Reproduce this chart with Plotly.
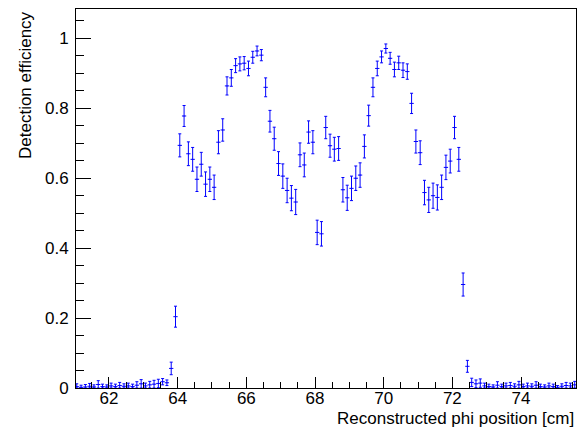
import plotly.graph_objects as go

# ---- data ----
bin_width = 0.125
first_center = 61.0625
n_bins = 117
x_centers = [round(first_center + i * bin_width, 4) for i in range(n_bins)]

low_left = [0.004, 0.002, 0.003, 0.005, 0.003, 0.010, 0.004, 0.003, 0.006, 0.004,
            0.007, 0.005, 0.006, 0.004, 0.008, 0.012, 0.006, 0.009, 0.011, 0.013]
main_vals = [0.018, 0.015, 0.056, 0.204, 0.694, 0.778, 0.670, 0.654, 0.597, 0.640,
             0.583, 0.597, 0.574, 0.703, 0.738, 0.864, 0.887, 0.922, 0.927, 0.929,
             0.914, 0.946, 0.964, 0.952, 0.860, 0.763, 0.713, 0.642, 0.606, 0.565,
             0.543, 0.532, 0.667, 0.638, 0.732, 0.703, 0.445, 0.441, 0.745, 0.693,
             0.683, 0.685, 0.567, 0.544, 0.571, 0.600, 0.609, 0.691, 0.779, 0.860,
             0.914, 0.947, 0.971, 0.943, 0.911, 0.930, 0.909, 0.905, 0.814, 0.705,
             0.673, 0.559, 0.538, 0.550, 0.545, 0.574, 0.631, 0.649, 0.745, 0.654,
             0.296, 0.062]
main_errs = [0.009, 0.008, 0.018, 0.030, 0.033, 0.030, 0.034, 0.034, 0.035, 0.034,
             0.035, 0.035, 0.035, 0.033, 0.032, 0.026, 0.024, 0.020, 0.020, 0.019,
             0.021, 0.017, 0.014, 0.016, 0.027, 0.031, 0.033, 0.034, 0.035, 0.035,
             0.036, 0.036, 0.034, 0.034, 0.032, 0.033, 0.035, 0.035, 0.032, 0.033,
             0.034, 0.034, 0.035, 0.036, 0.035, 0.035, 0.035, 0.033, 0.030, 0.027,
             0.021, 0.017, 0.013, 0.017, 0.021, 0.019, 0.021, 0.022, 0.029, 0.033,
             0.034, 0.035, 0.036, 0.036, 0.036, 0.035, 0.035, 0.034, 0.032, 0.034,
             0.033, 0.017]
low_right = [0.016, 0.012, 0.014, 0.006, 0.004, 0.003, 0.008, 0.004, 0.006, 0.007,
             0.005, 0.009, 0.004, 0.006, 0.005, 0.008, 0.004, 0.003, 0.006, 0.004,
             0.002, 0.005, 0.007, 0.006, 0.009]
low_err_plus = [0.008, 0.006, 0.007, 0.008, 0.006, 0.011, 0.007, 0.006, 0.008, 0.007,
                0.009, 0.007, 0.008, 0.007, 0.010, 0.012, 0.008, 0.010, 0.011, 0.012]
low_right_err_plus = [0.012, 0.011, 0.012, 0.008, 0.007, 0.006, 0.010, 0.007, 0.008, 0.009,
                      0.007, 0.010, 0.007, 0.008, 0.007, 0.010, 0.007, 0.006, 0.008, 0.007,
                      0.005, 0.007, 0.009, 0.008, 0.010]

y_vals = low_left + main_vals + low_right
err_plus = low_err_plus + main_errs + low_right_err_plus
err_minus = [min(v, e) for v, e in zip(y_vals, err_plus)]

x_range = [61.04, 75.6]
y_range = [0, 1.084]
x_title = "Reconstructed phi position [cm]"
y_title = "Detection efficiency"

color = "#0000ff"
font_family = "Liberation Sans, Arial, sans-serif"

fig = go.Figure()
fig.add_trace(go.Scatter(
    x=x_centers, y=y_vals, mode="markers",
    marker=dict(size=1, color=color),
    error_y=dict(type="data", symmetric=False, array=err_plus, arrayminus=err_minus,
                 color=color, thickness=1, width=1.5),
    error_x=dict(type="constant", value=bin_width / 2, color=color, thickness=1, width=0),
    cliponaxis=True, showlegend=False,
))

fig.update_xaxes(
    range=x_range, showgrid=False, zeroline=False,
    showline=True, linecolor="black", linewidth=1, mirror=True,
    ticks="inside", ticklen=11, tickcolor="black", tickwidth=1,
    tick0=62, dtick=2, tickfont=dict(family=font_family, size=17, color="black"),
    minor=dict(ticks="inside", ticklen=6, dtick=0.5, tick0=62, tickcolor="black", showgrid=False),
    ticklabelstandoff=-5,
)
fig.update_yaxes(
    range=y_range, showgrid=False, zeroline=False,
    showline=True, linecolor="black", linewidth=1, mirror=True,
    ticks="inside", ticklen=15, tickcolor="black", tickwidth=1,
    tick0=0, dtick=0.2, tickformat="~g",
    tickfont=dict(family=font_family, size=17, color="black"),
    minor=dict(ticks="inside", ticklen=8, dtick=0.05, tick0=0, tickcolor="black", showgrid=False),
    ticklabelstandoff=3,
)

fig.update_layout(
    width=581, height=430,
    margin=dict(l=76, r=5, t=9, b=42),
    plot_bgcolor="white", paper_bgcolor="white",
    font=dict(family=font_family, size=17, color="black"),
    annotations=[
        dict(text=x_title, xref="paper", yref="paper", x=1, y=0, xanchor="right",
             yanchor="middle", yshift=-30, showarrow=False,
             font=dict(family=font_family, size=17, color="black")),
        dict(text=y_title, xref="paper", yref="paper", x=0, y=1, xanchor="center",
             yanchor="top", xshift=-51, textangle=-90, showarrow=False,
             font=dict(family=font_family, size=17, color="black")),
    ],
)

fig.write_html("out.html")
